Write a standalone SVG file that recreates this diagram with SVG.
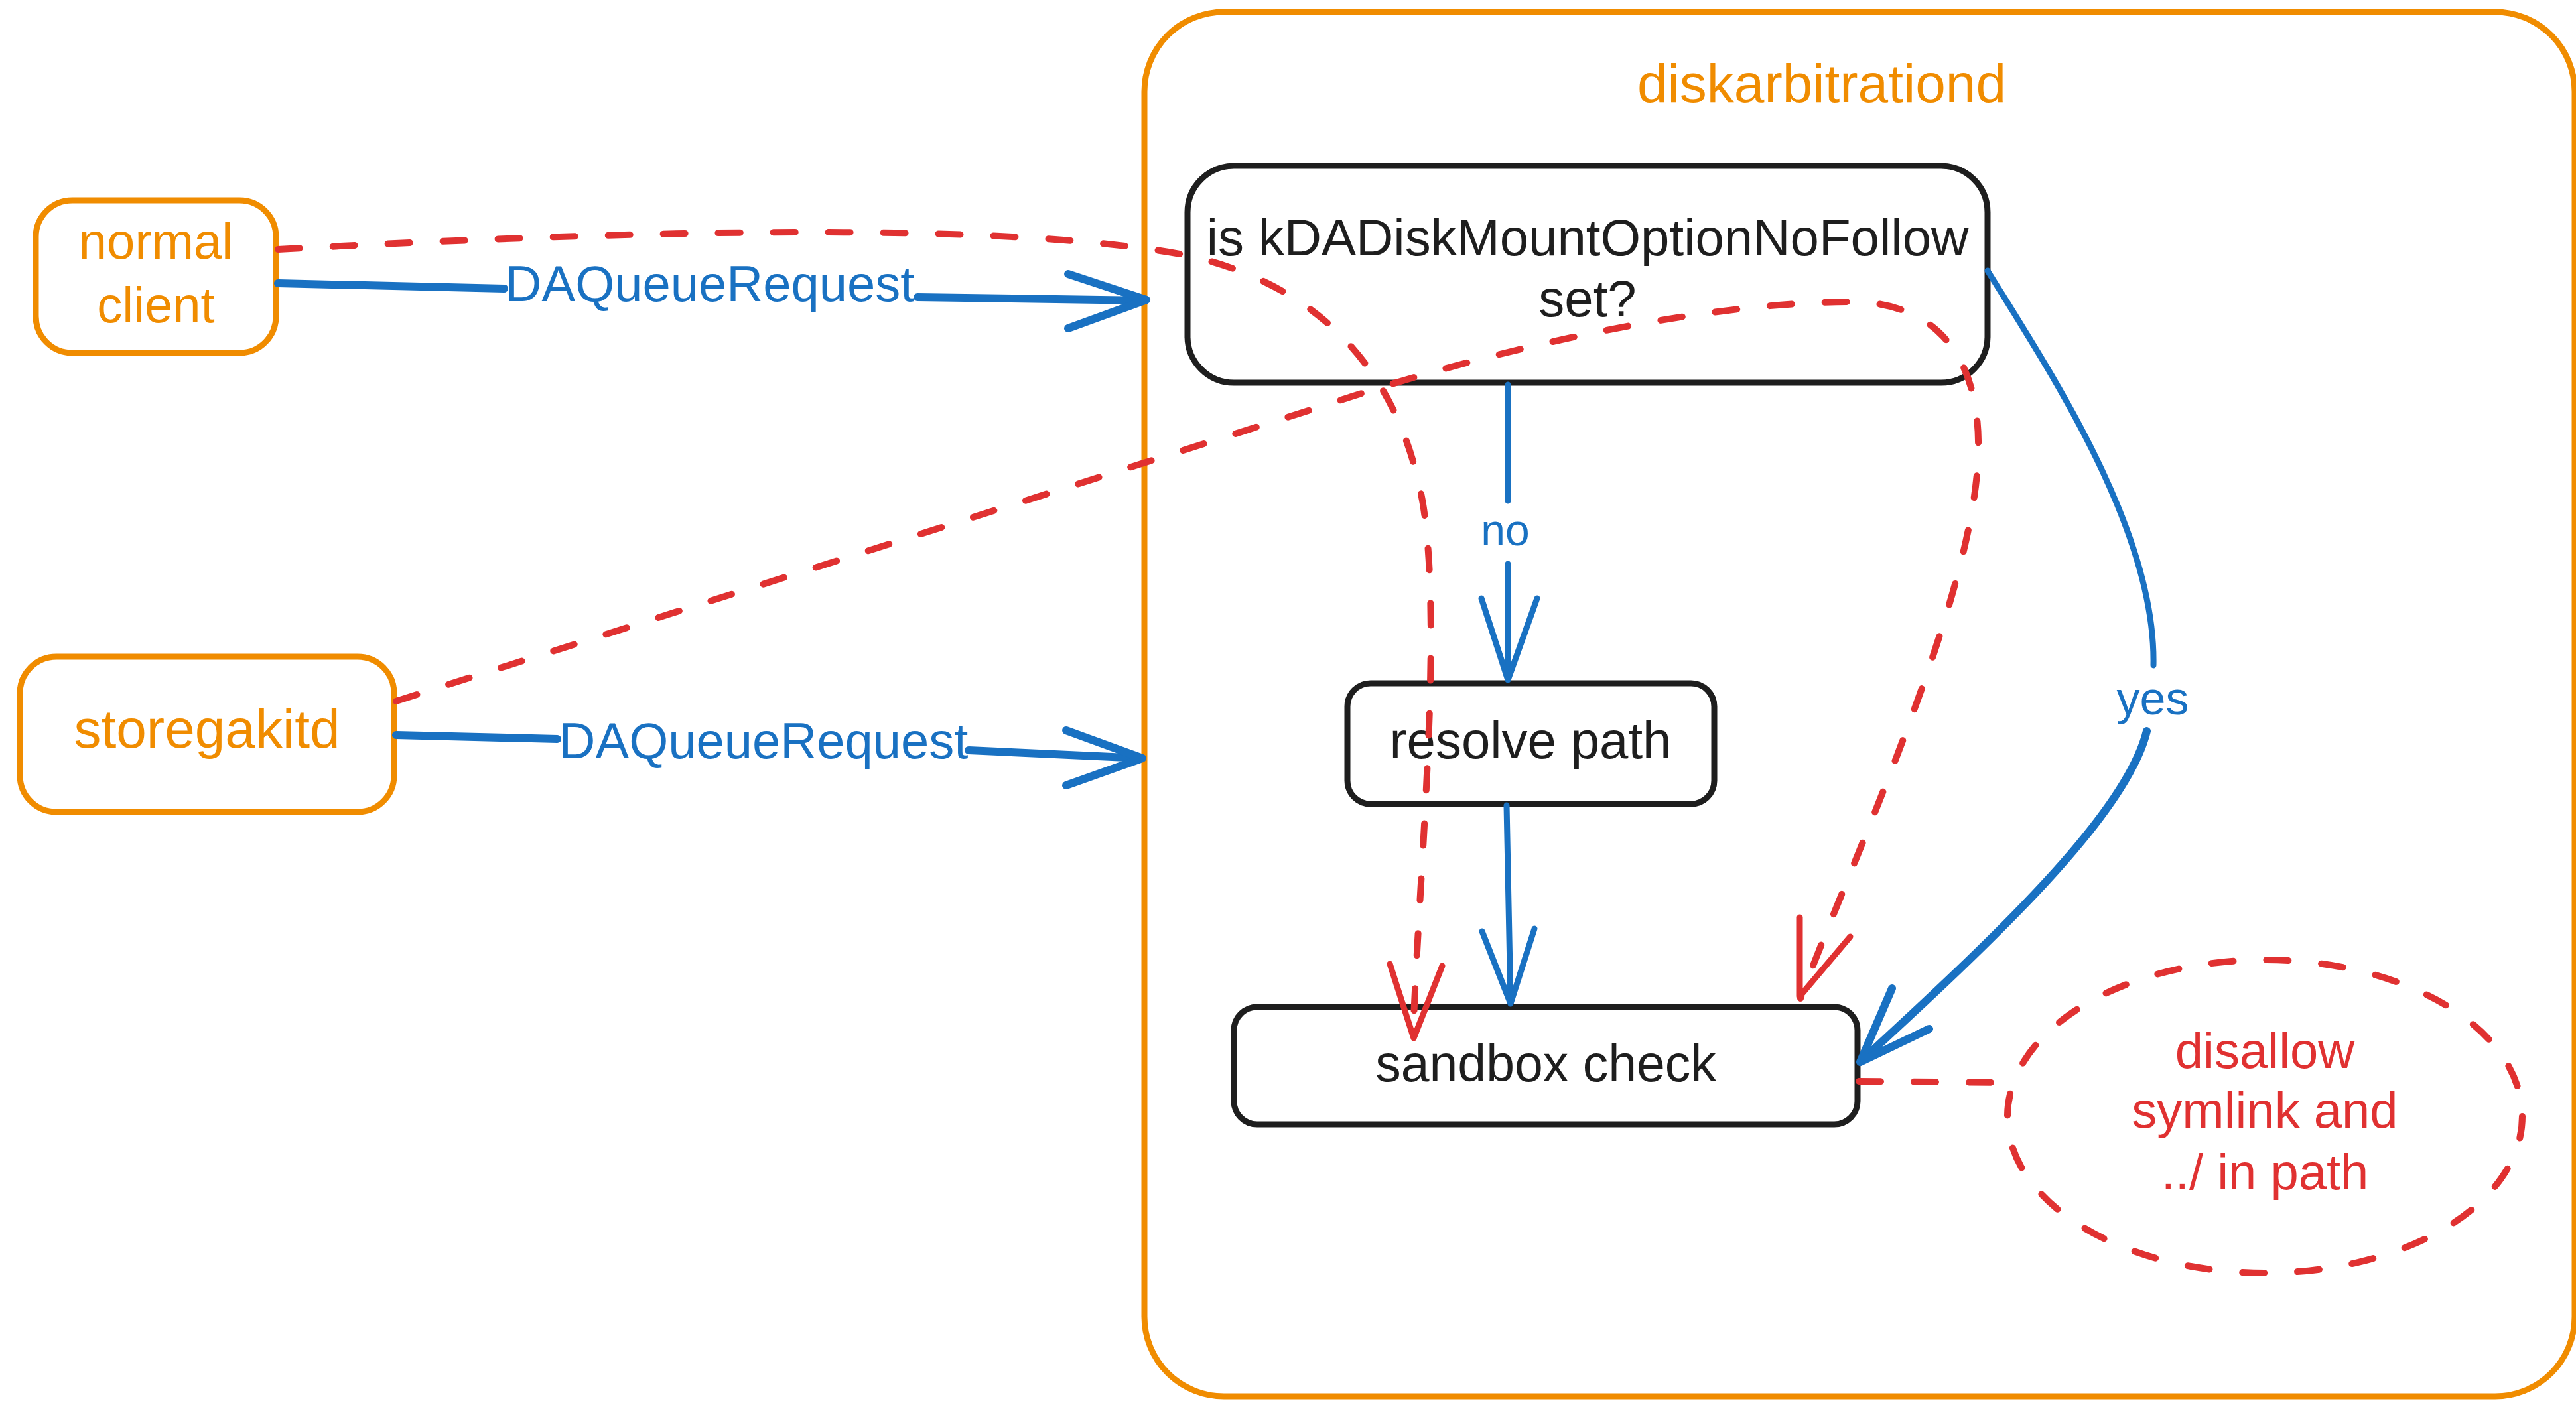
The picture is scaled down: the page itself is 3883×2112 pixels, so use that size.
<svg xmlns="http://www.w3.org/2000/svg" width="3883" height="2112" viewBox="0 0 3883 2112">
<style>
.obox{fill:none;stroke:#f08c00;stroke-width:9}
.kbox{fill:none;stroke:#1e1e1e;stroke-width:9}
.blue{fill:none;stroke:#1971c2;stroke-width:12;stroke-linecap:round;stroke-linejoin:round}
.blue2{fill:none;stroke:#1971c2;stroke-width:9;stroke-linecap:round;stroke-linejoin:round}
.red{fill:none;stroke:#e03131;stroke-width:10;stroke-linecap:round;stroke-dasharray:33 50}
.redh{fill:none;stroke:#e03131;stroke-width:9;stroke-linecap:round;stroke-linejoin:round}
text{font-family:"Liberation Sans",Arial,sans-serif;text-anchor:middle}
.to{fill:#f08c00}
.tk{fill:#1e1e1e}
.tb{fill:#1971c2}
.tr{fill:#e03131}
</style>
<rect x="0" y="0" width="3883" height="2112" fill="#ffffff"/>
<g id="diskarbitrationd">
<rect class="obox" x="1725" y="18" width="2156" height="2087" rx="120" ry="120"/>
<text class="to" x="2746" y="154" font-size="82">diskarbitrationd</text>
</g>
<g id="normal-client">
<rect class="obox" x="54" y="302" width="362" height="230" rx="55" ry="55"/>
<text class="to" x="235" y="390" font-size="76">normal</text>
<text class="to" x="235" y="486" font-size="76">client</text>
</g>
<g id="storegakitd">
<rect class="obox" x="30" y="990" width="564" height="234" rx="55" ry="55"/>
<text class="to" x="312" y="1127" font-size="82">storegakitd</text>
</g>
<g id="nofollow-check">
<rect class="kbox" x="1790" y="250" width="1206" height="327" rx="70" ry="70" stroke-width="11"/>
<text class="tk" x="2393" y="385" font-size="78">is kDADiskMountOptionNoFollow</text>
<text class="tk" x="2393" y="477" font-size="78">set?</text>
</g>
<g id="resolve-path">
<rect class="kbox" x="2031" y="1030" width="553" height="182" rx="35" ry="35"/>
<text class="tk" x="2307" y="1143" font-size="78">resolve path</text>
</g>
<g id="sandbox-check">
<rect class="kbox" x="1860" y="1518" width="940" height="177" rx="35" ry="35"/>
<text class="tk" x="2330" y="1630" font-size="77">sandbox check</text>
</g>
<g id="disallow-note">
<ellipse class="red" cx="3414" cy="1683" rx="388" ry="236"/>
<text class="tr" x="3414" y="1610" font-size="76">disallow</text>
<text class="tr" x="3414" y="1700" font-size="76">symlink and</text>
<text class="tr" x="3414" y="1793" font-size="76">../ in path</text>
</g>
<g id="connectors">
<path class="blue" d="M419,427 L760,435 M1383,448 L1726,453"/>
<path class="blue" d="M1610,413 L1728,452 L1610,495"/>
<text class="tb" x="1070" y="454" font-size="76">DAQueueRequest</text>
<path class="blue" d="M597,1108 L840,1114 M1460,1131 L1720,1143"/>
<path class="blue" d="M1607,1101 L1722,1143 L1607,1184"/>
<text class="tb" x="1151" y="1143" font-size="76">DAQueueRequest</text>
<path class="blue2" d="M2273,580 L2273,755 M2273,850 L2273,1022"/>
<path class="blue2" d="M2233,902 L2273,1025 L2317,902"/>
<text class="tb" x="2269" y="822" font-size="66">no</text>
<path class="blue2" d="M2271,1214 L2277,1512"/>
<path class="blue2" d="M2234,1404 L2277,1513 L2313,1400"/>
<path class="blue2" d="M2996,408 C3090,560 3250,800 3246,1003"/>
<path class="blue" d="M3236,1102 C3205,1230 3000,1420 2806,1599" stroke-width="14"/>
<path class="blue" d="M2852,1490 L2804,1601 L2908,1551"/>
<text class="tb" x="3245" y="1077" font-size="70">yes</text>
<path class="red" d="M419,376 C900,350 1500,330 1790,385 C1990,430 2110,560 2145,760 C2175,950 2140,1300 2130,1560"/>
<path class="redh" d="M2095,1453 L2131,1565 L2174,1456"/>
<path class="red" d="M597,1057 L2000,610 C2300,510 2600,455 2790,455 C2920,455 2985,540 2982,680 C2978,900 2790,1300 2714,1505"/>
<path class="redh" d="M2713,1383 L2713,1502 L2789,1412"/>
<path class="red" d="M2802,1630 L3025,1632"/>
</g>
</svg>
